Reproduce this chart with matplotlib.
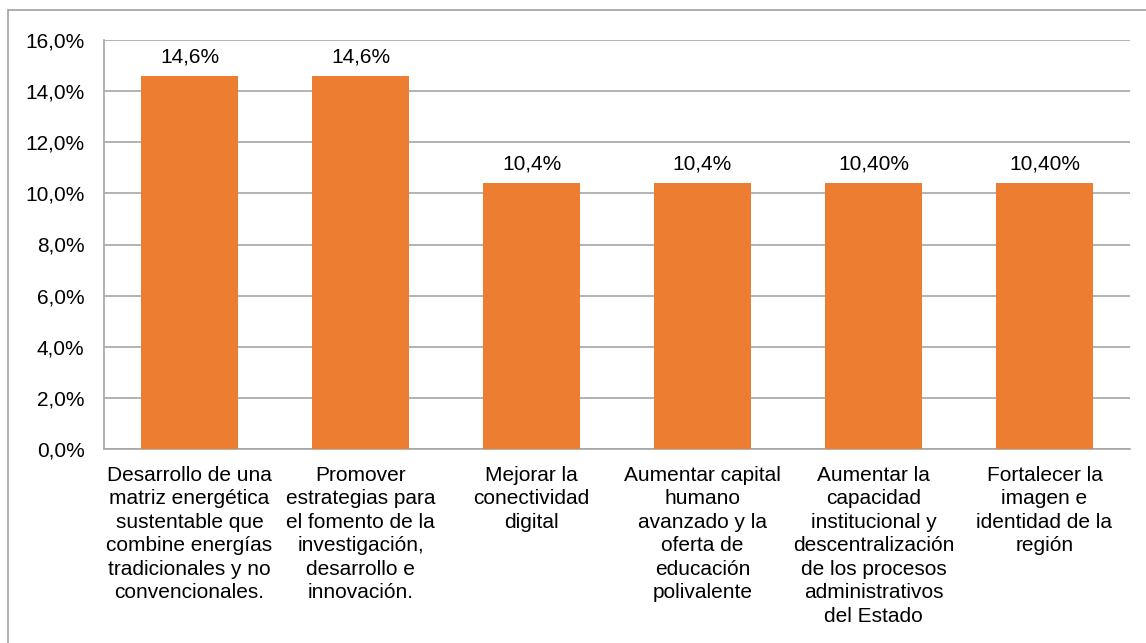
import matplotlib.pyplot as plt
from matplotlib.patches import Rectangle
from matplotlib.ticker import FuncFormatter

categories = [
    'Desarrollo de una\nmatriz energética\nsustentable que\ncombine energías\ntradicionales y no\nconvencionales.',
    'Promover\nestrategias para\nel fomento de la\ninvestigación,\ndesarrollo e\ninnovación.',
    'Mejorar la\nconectividad\ndigital',
    'Aumentar capital\nhumano\navanzado y la\noferta de\neducación\npolivalente',
    'Aumentar la\ncapacidad\ninstitucional y\ndescentralización\nde los procesos\nadministrativos\ndel Estado',
    'Fortalecer la\nimagen e\nidentidad de la\nregión',
]
values = [14.6, 14.6, 10.4, 10.4, 10.4, 10.4]
value_labels = ['14,6%', '14,6%', '10,4%', '10,4%', '10,40%', '10,40%']
y_ticks = [0, 2, 4, 6, 8, 10, 12, 14, 16]

plt.rcParams['font.family'] = ['Liberation Sans', 'DejaVu Sans']
fs = 15

fig = plt.figure(figsize=(11.46, 6.43), dpi=100)
ax = fig.add_axes([104 / 1146, 1 - 449 / 643, (1130 - 104) / 1146, (449 - 40) / 643])

x = range(len(categories))
ax.bar(x, values, width=0.573, color='#ED7D31', zorder=3)

# etiquetas de valor sobre cada barra
for xi, v, lab in zip(x, values, value_labels):
    ax.annotate(lab, (xi, v), xytext=(0, 7), textcoords='offset points',
                ha='center', va='bottom', fontsize=fs)

ax.set_xlim(-0.5, len(categories) - 0.5)
ax.set_ylim(0, 16)
ax.set_yticks(y_ticks)
ax.yaxis.set_major_formatter(FuncFormatter(lambda v, p: f'{v:.1f}%'.replace('.', ',')))
ax.set_xticks(list(x))
ax.set_xticklabels(categories, fontsize=fs, linespacing=1.3)
ax.tick_params(axis='both', length=0, labelsize=fs)
ax.tick_params(axis='x', pad=12)
ax.tick_params(axis='y', pad=14)

ax.grid(axis='y', color='#a6a6a6', linewidth=1.2, zorder=0)
for s in ['top', 'right']:
    ax.spines[s].set_visible(False)
for s in ['left', 'bottom']:
    ax.spines[s].set_color('#a6a6a6')
    ax.spines[s].set_linewidth(1.2)

# borde exterior del gráfico
fig.patches.append(Rectangle((8 / 1146, -0.1), 1.2, 1.1 - 10 / 643,
                             transform=fig.transFigure, fill=False,
                             edgecolor='#a0a0a0', linewidth=1.2))

fig.savefig('out.png', dpi=100)
